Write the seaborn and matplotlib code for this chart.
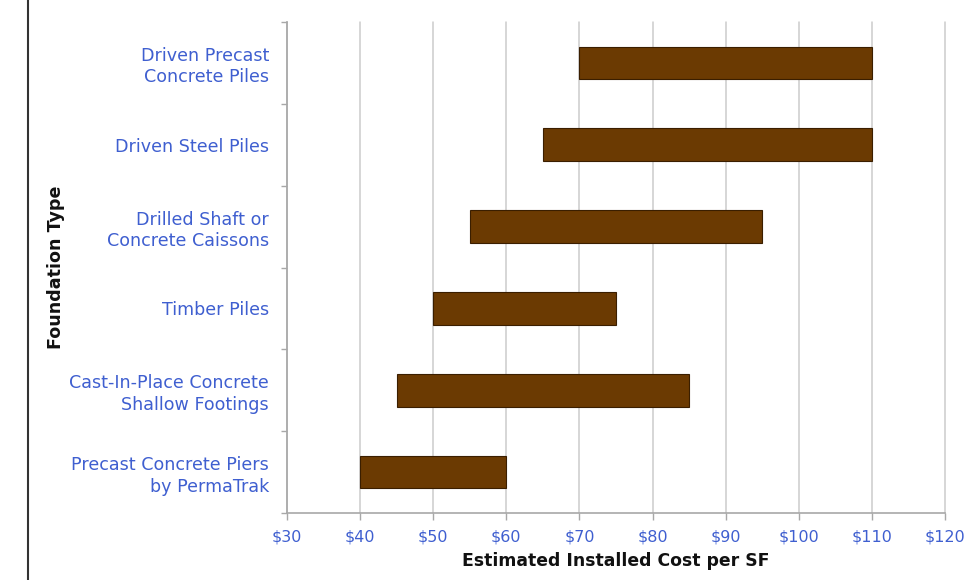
import matplotlib
matplotlib.use("Agg")
import matplotlib.pyplot as plt
from matplotlib.lines import Line2D
from matplotlib.ticker import FixedLocator
import seaborn as sns
import pandas as pd

# data
categories = [
    "Driven Precast\nConcrete Piles",
    "Driven Steel Piles",
    "Drilled Shaft or\nConcrete Caissons",
    "Timber Piles",
    "Cast-In-Place Concrete\nShallow Footings",
    "Precast Concrete Piers\nby PermaTrak",
]
cost_low = [70, 65, 55, 50, 45, 40]
cost_high = [110, 110, 95, 75, 85, 60]
x_ticks = [30, 40, 50, 60, 70, 80, 90, 100, 110, 120]

df = pd.DataFrame({"type": categories, "low": cost_low, "high": cost_high})
df["span"] = df["high"] - df["low"]

sns.set_theme(style="white")
plt.rcParams["font.family"] = ["DejaVu Sans"]

fig = plt.figure(figsize=(9.8, 5.8), dpi=100)
ax = fig.add_axes([287 / 980, 1 - 513 / 580, 658 / 980, 491 / 580])

grid_col = "#cccccc"
label_blue = "#3f5fd0"
bar_col = "#6b3a02"

# floating bars: width = high - low, starting at low
sns.barplot(data=df, x="span", y="type", left=df["low"].tolist(), orient="h",
            color=bar_col, saturation=1, width=0.4, edgecolor="#3a1e00",
            linewidth=0.8, ax=ax, zorder=3)

ax.set_xlim(30, 120)
ax.set_ylim(5.5, -0.5)
ax.set_xticks(x_ticks)
ax.set_xticklabels([f"${v}" for v in x_ticks])
ax.xaxis.grid(True, color=grid_col, linewidth=1.1, zorder=0)
ax.yaxis.grid(False)
for gl in ax.xaxis.get_gridlines():
    gl.set_clip_on(False)

for side in ["top", "right"]:
    ax.spines[side].set_visible(False)
for side in ["left", "bottom"]:
    ax.spines[side].set_color("#a8a8a8")
    ax.spines[side].set_linewidth(1.2)

ax.tick_params(axis="x", bottom=True, length=5, width=1, color="#a8a8a8",
               labelsize=11.5, labelcolor=label_blue, pad=7)
ax.tick_params(axis="y", which="major", left=False, length=0, pad=13,
               labelsize=12.6, labelcolor=label_blue)
ax.yaxis.set_minor_locator(FixedLocator([i - 0.5 for i in range(len(categories) + 1)]))
ax.tick_params(axis="y", which="minor", left=True, length=4, width=1, color="#a8a8a8")
for lbl in ax.get_yticklabels():
    lbl.set_horizontalalignment("right")
    lbl.set_multialignment("right")
    lbl.set_linespacing(1.25)

ax.set_xlabel("Estimated Installed Cost per SF", fontsize=12.4, fontweight="bold",
              color="#111111", labelpad=5)
ax.set_ylabel("Foundation Type", fontsize=12.6, fontweight="bold", color="#111111")
ax.yaxis.set_label_coords(-0.337, 0.5)

# dark frame line at the left edge of the picture
fig.add_artist(Line2D([28 / 980, 28 / 980], [0, 1], transform=fig.transFigure,
                      color="#333333", linewidth=1.5))

fig.savefig("out.png", dpi=100, facecolor="white")
